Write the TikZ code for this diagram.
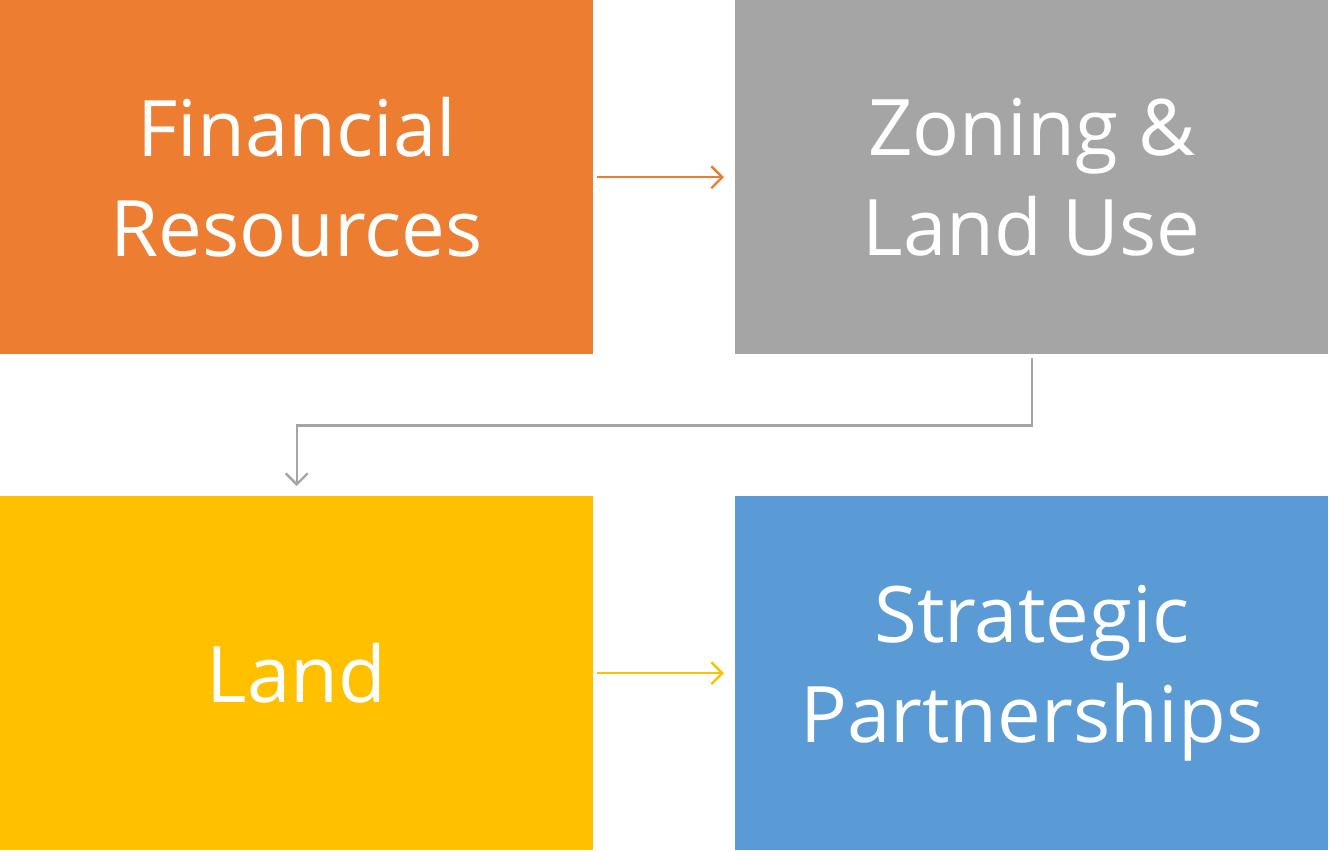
\documentclass[tikz,border=0pt]{standalone}
\usepackage{fontspec}
\setmainfont{Open Sans}
\usepackage{tikz}
\usetikzlibrary{arrows.meta,positioning}
\definecolor{finorange}{HTML}{ED7D31}
\definecolor{zongray}{HTML}{A5A5A5}
\definecolor{landyellow}{HTML}{FFC000}
\definecolor{partblue}{HTML}{5B9BD5}

\tikzset{
  block/.style={draw=none,anchor=north west,minimum width=593pt,minimum height=354pt,
    inner sep=0pt,align=center,text=white,font=\fontsize{78}{100}\selectfont},
  link/.style={line width=2.4pt,-{Straight Barb[length=11pt,width=22pt,line width=2.4pt]},
    shorten <=4pt,shorten >=11pt}
}

\begin{document}
\begin{tikzpicture}[x=1pt,y=-1pt]
\useasboundingbox (0,0) rectangle (1330,851);
% the four blocks
\node[block,fill=finorange] (fin) at (0,0) {Financial\\Resources};
\node[block,fill=zongray] (zon) at (735,0) {Zoning \&\\Land Use};
\node[block,fill=landyellow] (land) at (0,496) {Land};
\node[block,fill=partblue] (part) at (735,496) {Strategic\\Partnerships};
% connectors
\draw[link,finorange] (fin.east) -- (zon.west);
\draw[link,zongray,shorten >=10pt] (zon.south) -- ++(0,71) -| (land.north);
\draw[link,landyellow] (land.east) -- (part.west);
\end{tikzpicture}
\end{document}
